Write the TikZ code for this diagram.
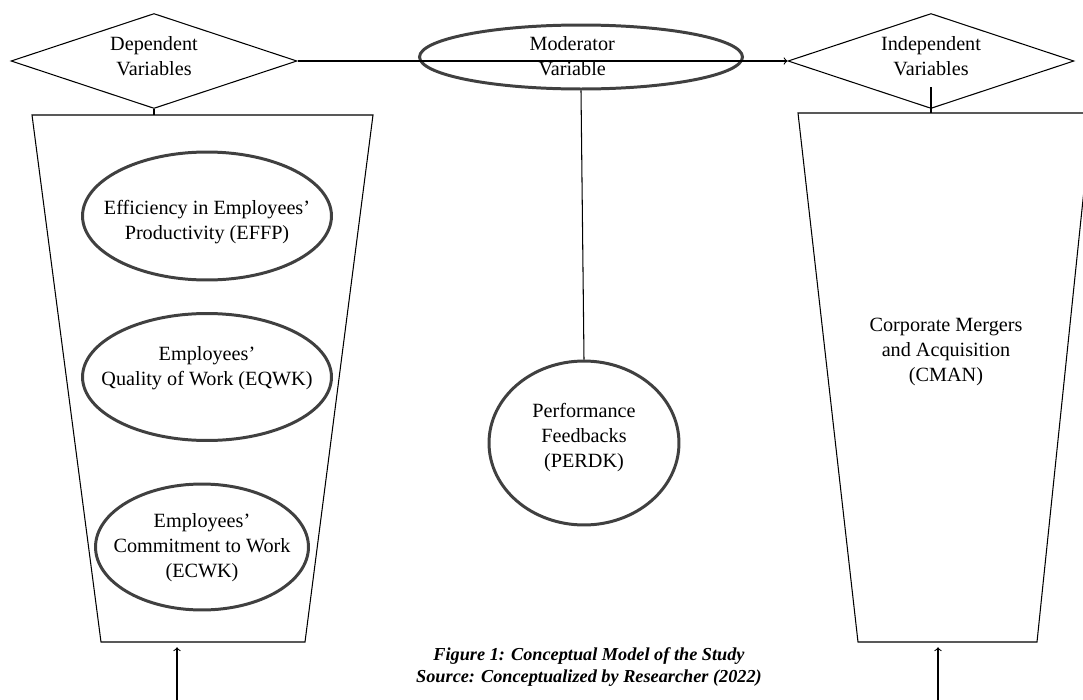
\documentclass[tikz,border=0pt]{standalone}
\usepackage{fontspec}
\setmainfont{Liberation Serif}
\usetikzlibrary{shapes.geometric}
\newcommand{\flattext}[2][0pt]{\smash{\raisebox{#1}{\makebox[0pt]{\begin{tabular}{@{}c@{}}#2\end{tabular}}}}}
\tikzset{
  varbox/.style={draw, diamond, aspect=3, inner sep=0pt, minimum width=5.72cm, minimum height=1.9cm, font=\fontsize{11.5}{14.2}\selectfont},
  factor/.style={draw=black!75, line width=1.7pt, ellipse, inner sep=0pt, font=\fontsize{11.5}{14.2}\selectfont},
  caption/.style={align=center, font=\fontsize{10.4}{12.2}\selectfont\bfseries\itshape}
}
\begin{document}
\begin{tikzpicture}[x=0.02cm, y=-0.02cm, line width=0.6pt]
\useasboundingbox (0,0) rectangle (1083,700);
\clip (0,0) rectangle (1083,700);
\node[varbox] (dep) at (154,61) {\flattext[-1.1pt]{Dependent\\Variables}};
\node[varbox] (ind) at (931,61) {\flattext[-1.1pt]{Independent\\Variables}};
\node[factor, minimum width=6.46cm, minimum height=1.28cm] (mod) at (581,57) {\flattext[-3.4pt]{\hspace*{-10pt}Moderator\\\hspace*{-10pt}Variable}};
\node[factor, minimum width=3.8cm, minimum height=3.28cm] (perf) at (584,443) {\flattext{Performance\\Feedbacks\\(PERDK)}};
\node[factor, minimum width=4.98cm, minimum height=2.56cm] (effp) at (207,216) {\flattext[-6.2pt]{Efficiency in Employees'\\Productivity (EFFP)}};
\node[factor, minimum width=4.98cm, minimum height=2.54cm] (eqwk) at (207,377) {\flattext[2.3pt]{Employees'\\Quality of Work (EQWK)}};
\node[factor, minimum width=4.26cm, minimum height=2.52cm] (ecwk) at (202,547) {\flattext[-3.4pt]{Employees'\\Commitment to Work\\(ECWK)}};
\node[align=center, font=\fontsize{11.5}{14.2}\selectfont] (cman) at (946,352) {Corporate Mergers\\and Acquisition\\(CMAN)};
\node[caption] (cap) at (589,667) {Figure 1: Conceptual Model of the Study\\Source: Conceptualized by Researcher (2022)};
\coordinate (ltop) at (154,115);
\coordinate (rtick) at (931,87);
\coordinate (rtop) at (931,113);
\coordinate (lfoot) at (177,700);
\coordinate (lbase) at (177,642);
\coordinate (rfoot) at (938,700);
\coordinate (rbase) at (938,642);
\draw (32,115) -- (373,115) -- (305,642) -- (101,642) -- cycle;
\draw (798,113) -- (1092,113) -- (1037,642) -- (858,642) -- cycle;
\draw[->] (dep.east) -- (ind.west);
\draw (mod.south) -- (perf.north);
\draw (dep.south) -- (ltop);
\draw (rtick) -- (rtop);
\draw[->, shorten >=3pt] (lfoot) -- (lbase);
\draw[->, shorten >=3pt] (rfoot) -- (rbase);
\end{tikzpicture}
\end{document}
